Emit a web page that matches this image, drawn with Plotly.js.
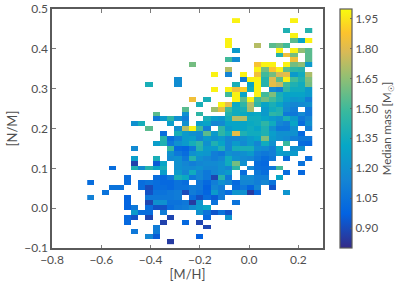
<!DOCTYPE html>
<html><head><meta charset="utf-8">
<script src="https://cdn.plot.ly/plotly-3.0.1.min.js"></script>
<style>html,body{margin:0;padding:0;background:#fff}#c{width:399px;height:282px}</style>
</head><body><div id="c"></div>
<script>
const xCenters=[-0.6423,-0.6129,-0.5834,-0.554,-0.5245,-0.4951,-0.4656,-0.4362,-0.4067,-0.3773,-0.3478,-0.3184,-0.2889,-0.2595,-0.23,-0.2006,-0.1711,-0.1417,-0.1122,-0.0828,-0.0533,-0.0239,0.0056,0.035,0.0645,0.0939,0.1234,0.1528,0.1823,0.2117,0.2412];
const yCenters=[-0.0836,-0.0713,-0.059,-0.0466,-0.0343,-0.022,-0.0097,0.0026,0.015,0.0273,0.0396,0.0519,0.0642,0.0766,0.0889,0.1012,0.1135,0.1258,0.1382,0.1505,0.1628,0.1751,0.1874,0.1998,0.2121,0.2244,0.2367,0.249,0.2614,0.2737,0.286,0.2983,0.3106,0.323,0.3353,0.3476,0.3599,0.3722,0.3846,0.3969,0.4092,0.4215,0.4338,0.4462,0.4585,0.4708];
// median mass per [N/M] row (bottom to top): {column index: value}
const medianMassRows=[
{11:.85},
{8:1.15,9:.95,15:.97},
{6:1.08,9:1.1},
{9:1.1,16:.88},
{5:1.0,10:.87,13:1.0,15:.88},
{5:1.0,6:.92,8:.88,11:.88,16:1.0,19:1.22},
{6:1.25,7:1.02,8:1.02,10:1.1,15:1.2,16:1.05,17:.93,18:1.05,19:.93},
{5:.98,6:1.08,8:1.02,9:.92,10:.92,11:1.02,12:1.08,13:1.1,14:1.18,15:1.25,16:1.32},
{5:.98,8:.88,9:1.2,10:1.2,11:1.05,12:1.05,13:1.08,14:.85,15:1.22,17:1.05,20:1.05},
{0:1.12,5:.98,8:1.08,9:1.08,10:1.08,11:1.08,12:1.1,14:1.02,15:.92,16:1.02,17:.95,18:1.1},
{2:1.05,8:.92,9:1.05,10:1.05,11:1.08,12:1.1,13:.9,14:1.1,15:1.05,16:.98,17:1.25,18:1.1,19:1.02,20:1.22,21:1.2,22:.85,23:1.0,27:1.22},
{3:1.05,4:1.05,7:1.02,8:.9,9:1.02,10:1.02,11:1.0,12:1.05,13:1.05,14:1.1,15:1.08,16:.97,17:1.15,18:1.1,20:1.02,21:1.08,22:.98,23:1.15,25:.93},
{0:1.02,5:1.02,7:1.02,8:1.05,9:1.02,10:1.0,11:1.0,12:1.05,13:1.02,15:1.08,16:1.0,17:1.11,18:1.2,19:1.15,20:1.0,21:1.15,22:1.15,23:1.11,24:1.15,25:1.05},
{5:1.02,9:1.02,10:1.0,11:1.08,12:1.38,13:1.33,14:1.08,15:1.15,16:1.08,17:.88,18:1.42,19:1.08,21:1.17,22:1.17,23:1.11,24:1.11,26:1.3},
{10:1.27,12:1.25,13:1.15,14:1.35,15:1.15,16:1.08,17:1.15,18:1.2,19:1.25,21:1.02,23:1.08,24:1.02,27:1.02,29:1.0},
{3:1.02,6:1.4,7:1.17,8:1.42,9:1.3,10:1.37,12:1.2,13:1.17,14:1.17,15:1.2,16:1.15,17:1.15,18:1.2,19:1.15,20:1.45,22:1.15,23:1.03,24:1.02,25:1.08,26:1.5},
{6:.87,9:.95,10:1.3,12:1.2,13:1.15,14:1.11,15:1.15,16:1.17,17:1.17,18:1.2,19:1.35,20:1.6,21:1.2,23:1.02,24:1.0,29:1.05},
{6:1.27,9:1.38,11:1.17,12:1.2,13:1.08,14:1.42,15:1.2,16:1.15,17:1.11,18:1.15,19:1.35,20:1.2,21:1.17,22:1.15,23:1.08,24:1.02,25:1.08,27:1.02,30:1.02},
{11:1.2,12:1.08,13:1.02,14:1.2,15:1.25,16:1.23,17:1.11,18:1.08,19:1.2,20:1.17,21:1.2,22:1.25,23:1.11,24:1.08,25:1.11,26:1.27,27:1.25,28:1.25},
{6:1.17,11:1.48,12:1.0,13:.98,14:1.08,15:1.42,16:1.25,17:1.25,18:1.4,19:1.15,20:1.37,21:1.38,22:1.38,23:1.2,24:1.17,25:1.11,26:1.33,28:1.2,29:1.2},
{9:1.27,10:1.4,11:1.08,12:1.2,13:1.25,14:1.37,15:1.45,16:1.2,17:1.4,18:1.3,19:1.15,20:1.25,21:1.17,22:1.25,23:1.15,24:1.35,25:1.2,27:1.48,29:1.02,30:1.0},
{10:1.42,11:1.02,12:1.11,13:1.25,14:1.27,15:1.15,16:1.25,17:1.2,18:1.25,19:1.15,20:1.15,21:1.2,22:1.25,23:1.3,24:1.62,25:1.25,26:1.2,27:1.17,28:1.11,29:1.08,30:1.08},
{10:1.02,12:1.38,13:1.25,14:1.2,15:1.17,16:1.55,17:1.25,18:1.45,19:1.35,20:1.82,21:1.4,22:1.35,23:1.35,24:1.4,25:1.27,26:1.2,27:1.2,28:1.2,29:1.0},
{8:1.55,12:1.2,13:1.72,14:1.98,15:1.5,16:1.11,18:1.45,19:1.25,20:1.3,21:1.3,22:1.35,23:1.3,24:1.4,25:1.2,26:1.08,27:1.08,28:1.2,30:1.11},
{6:1.2,7:1.37,11:1.27,13:1.2,15:1.27,16:1.3,17:1.15,18:1.17,19:1.3,20:1.3,21:1.3,22:1.33,23:1.35,24:1.45,25:1.35,26:1.15,27:1.11,28:1.3,29:1.02,30:1.2},
{9:1.08,10:1.25,11:1.45,12:1.2,13:1.11,16:1.38,17:1.27,18:1.23,19:1.37,20:1.72,21:1.72,22:1.35,23:1.35,24:1.3,25:1.25,26:1.2,27:1.38,28:1.25,29:1.08,30:1.15},
{9:1.55,13:1.2,15:1.45,19:1.42,20:1.35,21:1.33,22:1.3,23:1.33,24:1.25,25:1.45,26:1.42,27:1.08,28:1.08,29:1.17,30:1.08},
{13:1.55,17:1.68,18:1.82,19:1.5,20:1.35,21:1.38,22:1.7,24:1.25,25:1.35,26:1.4,27:1.17,28:1.11,30:1.08},
{15:1.38,18:1.98,19:1.82,20:1.33,21:1.45,22:1.72,23:1.45,24:1.3,25:1.38,26:1.3,27:1.2,28:1.15,29:1.17,30:1.2},
{14:1.85,16:1.38,20:1.98,21:1.55,22:1.98,23:1.5,24:1.6,25:1.5,26:1.4,27:1.27,28:1.23,29:1.25,30:1.11},
{19:1.5,20:1.98,21:1.3,23:1.98,24:1.5,25:1.62,26:1.38,27:1.3,28:1.3,29:1.3,30:1.25},
{17:1.98,19:1.98,20:1.85,21:1.9,22:1.35,23:1.98,25:1.17,26:1.11,27:1.45,28:1.35,29:1.35,30:1.25},
{8:1.38,12:1.18,20:1.38,22:1.3,23:1.98,24:1.42,25:1.82,26:1.75,27:1.5,28:1.4,29:1.35,30:1.6},
{12:1.18,21:1.1,22:1.98,23:1.98,24:1.42,25:1.8,26:1.55,27:1.98,28:1.5,29:1.4,30:1.62},
{17:1.98,19:1.14,21:1.98,23:1.85,24:1.5,25:1.6,26:1.78,27:1.82,28:1.25,29:1.35,30:1.7},
{19:1.72,23:1.98,24:1.6,25:1.88,26:1.98,27:1.55,28:1.45,29:1.42},
{14:1.6,23:1.87,24:1.98,25:1.98,27:1.98,28:1.6,29:1.65,30:1.25},
{19:1.5,20:1.18,28:1.85,30:1.55},
{26:1.42,27:1.85,28:1.6,30:1.55},
{20:1.25,26:1.98,28:1.98,29:1.65,30:1.55},
{19:1.98,23:1.72,25:1.55,26:1.6,27:1.5},
{19:1.98,28:1.55,29:1.3,30:1.98},
{28:1.98},
{27:1.4,30:1.42},
{},
{20:1.98,28:1.98}
];
const xTicks=[-0.8,-0.6,-0.4,-0.2,0,0.2];
const xTickLabels=['−0.8','−0.6','−0.4','−0.2','0.0','0.2'];
const yTicks=[-0.1,0,0.1,0.2,0.3,0.4,0.5];
const yTickLabels=['−0.1','0.0','0.1','0.2','0.3','0.4','0.5'];
const cbTicks=[0.9,1.05,1.2,1.35,1.5,1.65,1.8,1.95];
const cbTickLabels=['0.90','1.05','1.20','1.35','1.50','1.65','1.80','1.95'];
const parula=[[0,'#352a87'],[0.143,'#0363e1'],[0.286,'#1485d4'],[0.429,'#06a7c6'],[0.571,'#38b99e'],[0.714,'#92bf73'],[0.82,'#d9ba56'],[0.9,'#fcc32e'],[1,'#f9fb0e']];
const z=medianMassRows.map(r=>xCenters.map((_,i)=>r[i]===undefined?null:r[i]));
const ink='#4f4f4f', fam='Lato, "Open Sans", sans-serif';
const axisCommon={showgrid:false,zeroline:false,showline:true,linecolor:'#5a5a5a',linewidth:1.6,mirror:'ticks',ticks:'inside',ticklen:3.5,tickwidth:0.8,tickcolor:'#5a5a5a',tickfont:{family:fam,size:12,color:ink}};
Plotly.newPlot('c',[{type:'heatmap',x:xCenters,y:yCenters,z:z,zmin:0.8,zmax:2.0,colorscale:parula,hoverongaps:false,
 colorbar:{thickness:12.3,len:1,lenmode:'fraction',y:0.5,yanchor:'middle',x:1.0615,xanchor:'left',xpad:0,ypad:0,outlinecolor:'#5a5a5a',outlinewidth:1.2,
  tickmode:'array',tickvals:cbTicks,ticktext:cbTickLabels,ticks:'inside',ticklen:2.5,tickcolor:'#5a5a5a',tickwidth:0.8,tickfont:{family:fam,size:11.5,color:ink},
  title:{text:'Median mass [M<sub>☉</sub>]',side:'right',font:{family:fam,size:11.5,color:ink}}}}],
 {width:399,height:282,margin:{l:52,r:75.7,t:8.5,b:34.3,pad:0,autoexpand:false},paper_bgcolor:'#fff',plot_bgcolor:'#fff',
  xaxis:Object.assign({},axisCommon,{range:[-0.8,0.3],tickmode:'array',tickvals:xTicks,ticktext:xTickLabels,title:{text:'[M/H]',font:{family:fam,size:13,color:ink},standoff:2}}),
  yaxis:Object.assign({},axisCommon,{range:[-0.1,0.5],tickmode:'array',tickvals:yTicks,ticktext:yTickLabels,title:{text:'[N/M]',font:{family:fam,size:13,color:ink},standoff:4}})},
 {displayModeBar:false,staticPlot:true});
</script></body></html>
